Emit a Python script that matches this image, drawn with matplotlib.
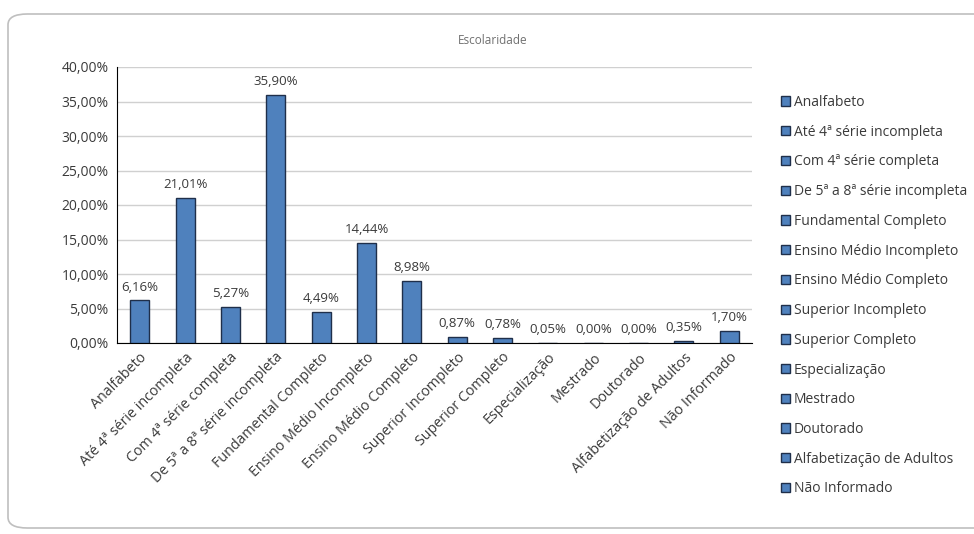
import matplotlib
matplotlib.use("Agg")
import matplotlib.pyplot as plt
from matplotlib.patches import Patch, FancyBboxPatch
from matplotlib.ticker import FuncFormatter

categories = ["Analfabeto", "Até 4ª série incompleta", "Com 4ª série completa",
              "De 5ª a 8ª série incompleta", "Fundamental Completo",
              "Ensino Médio Incompleto", "Ensino Médio Completo",
              "Superior Incompleto", "Superior Completo", "Especialização",
              "Mestrado", "Doutorado", "Alfabetização de Adultos", "Não Informado"]
values = [6.16, 21.01, 5.27, 35.90, 4.49, 14.44, 8.98, 0.87, 0.78, 0.05, 0.00, 0.00, 0.35, 1.70]
yticks = [0, 5, 10, 15, 20, 25, 30, 35, 40]
title = "Escolaridade"

plt.rcParams['font.family'] = ['Open Sans', 'DejaVu Sans']
bar_color = "#4F81BD"
edge_color = "#1F2F4A"
text_color = "#3A3A3A"

fig = plt.figure(figsize=(9.74, 5.34), dpi=100)
fig.patch.set_facecolor("white")

# chart border
border = FancyBboxPatch((8/974, 6/534), 1.2, 514/534, boxstyle="round,pad=0,rounding_size=0.02",
                        transform=fig.transFigure, facecolor="white", edgecolor="#BFBFBF",
                        linewidth=1.2, zorder=-5)
fig.patches.append(border)

ax = fig.add_axes([117/974, 1-343/534, (752-117)/974, (343-67)/534])
ax.set_facecolor("none")
x = list(range(len(categories)))
bars = ax.bar(x, values, width=0.42, color=bar_color, edgecolor=edge_color, linewidth=1.0, zorder=3)
for xi, v in zip(x, values):
    ax.text(xi, v + 1.0, f"{v:.2f}%".replace(".", ","), ha="center", va="bottom",
            fontsize=9.5, color=text_color)

ax.set_xlim(-0.5, len(categories) - 0.5)
ax.set_ylim(0, 40)
ax.set_yticks(yticks)
ax.yaxis.set_major_formatter(FuncFormatter(lambda v, p: f"{v:.2f}%".replace(".", ",")))
ax.set_xticks(x)
ax.set_xticklabels(categories, rotation=45, ha="right", rotation_mode="anchor", fontsize=10.3, color=text_color)
ax.tick_params(axis="y", labelsize=10, colors=text_color, length=0, pad=6)
ax.tick_params(axis="x", length=0, pad=5)
ax.grid(axis="y", color="#D0D0D0", linewidth=1.0, zorder=0)
for s in ["top", "right"]:
    ax.spines[s].set_visible(False)
ax.spines["left"].set_color("#000000")
ax.spines["bottom"].set_color("#000000")

fig.text(493/974, 1-40/534, title, ha="center", va="center", fontsize=8.5, color="#707070")

handles = [Patch(facecolor=bar_color, edgecolor=edge_color, label=c) for c in categories]
leg = fig.legend(handles=handles, loc="upper left", bbox_to_anchor=(781/974, 1-95/534), frameon=False,
                 fontsize=10, handlelength=0.65, handleheight=0.65, handletextpad=0.25,
                 labelspacing=1.06, borderaxespad=0, borderpad=0)
for t in leg.get_texts():
    t.set_color(text_color)

fig.savefig("out.png", dpi=100)
